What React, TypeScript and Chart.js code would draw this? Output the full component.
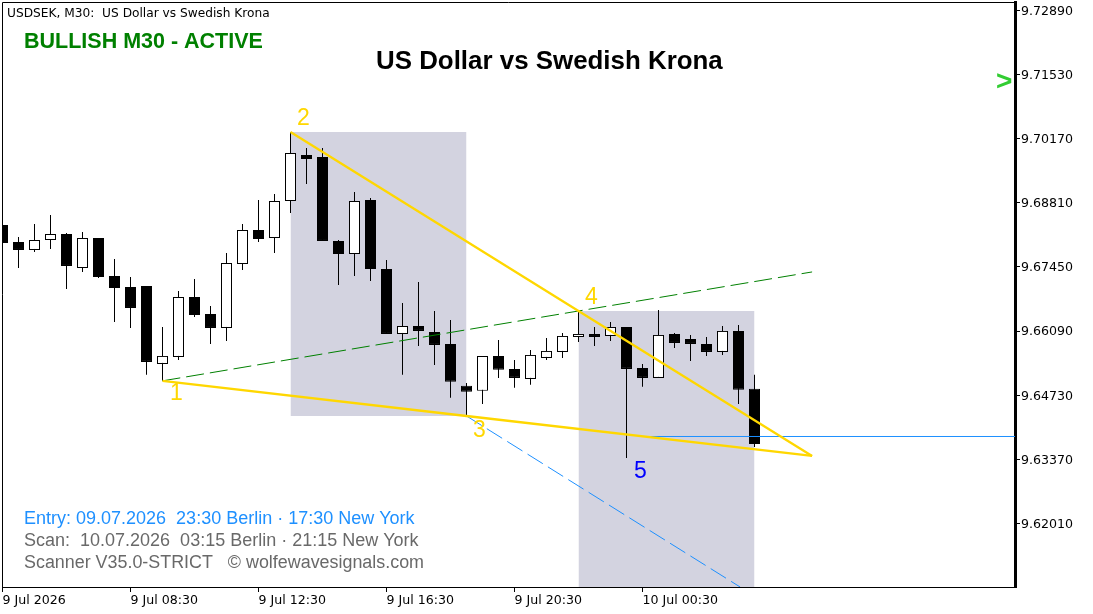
import React, { useEffect, useRef } from "react";
import { Chart, registerables } from "chart.js";

Chart.register(...registerables);

const opens = [9.68341, 9.6798, 9.67811, 9.68023, 9.6815, 9.67429, 9.68065, 9.67259, 9.67026, 9.67047, 9.65395, 9.65543, 9.66814, 9.66453, 9.66157, 9.67514, 9.68235, 9.68065, 9.6885, 9.69826, 9.69783, 9.68002, 9.67726, 9.68871, 9.67408, 9.6603, 9.66199, 9.66072, 9.65818, 9.64929, 9.64823, 9.65564, 9.65289, 9.65077, 9.65522, 9.65649, 9.65966, 9.6603, 9.65988, 9.66178, 9.6531, 9.65098, 9.6603, 9.65924, 9.65818, 9.65649, 9.66094, 9.64866];
const highs = [9.68341, 9.68086, 9.68362, 9.68553, 9.68171, 9.68192, 9.68065, 9.6762, 9.67238, 9.67047, 9.66178, 9.66941, 9.67196, 9.66623, 9.67747, 9.68362, 9.68871, 9.68998, 9.70313, 9.69974, 9.69974, 9.68023, 9.69041, 9.68914, 9.67599, 9.66687, 9.67132, 9.66517, 9.66326, 9.64992, 9.65564, 9.65903, 9.65479, 9.65691, 9.65945, 9.66051, 9.66517, 9.66178, 9.66284, 9.66178, 9.65395, 9.66538, 9.66051, 9.66009, 9.65966, 9.66199, 9.6622, 9.65162];
const lows = [9.67959, 9.67429, 9.67768, 9.67832, 9.66984, 9.67345, 9.67217, 9.66284, 9.66157, 9.65162, 9.65035, 9.65479, 9.6639, 9.65818, 9.65882, 9.67387, 9.6798, 9.67747, 9.68595, 9.69211, 9.68002, 9.67068, 9.67259, 9.67153, 9.6603, 9.65162, 9.65776, 9.65374, 9.64675, 9.6429, 9.64545, 9.65098, 9.64887, 9.6495, 9.65479, 9.65522, 9.65861, 9.65776, 9.65882, 9.63399, 9.64908, 9.65098, 9.65733, 9.65458, 9.65564, 9.65585, 9.64545, 9.63633];
const closes = [9.67959, 9.67811, 9.68023, 9.6815, 9.67472, 9.68065, 9.67238, 9.67005, 9.66581, 9.65437, 9.65564, 9.66814, 9.66432, 9.66157, 9.67535, 9.68235, 9.68044, 9.6885, 9.69868, 9.69741, 9.68002, 9.67726, 9.6885, 9.67408, 9.6603, 9.66199, 9.66094, 9.65797, 9.65014, 9.64802, 9.65564, 9.65268, 9.65098, 9.65585, 9.6567, 9.65988, 9.6603, 9.65966, 9.66178, 9.65289, 9.65098, 9.66009, 9.65839, 9.65818, 9.65649, 9.66094, 9.64844, 9.63696];

const priceTicks = [9.7289, 9.7153, 9.7017, 9.6881, 9.6745, 9.6609, 9.6473, 9.6337, 9.6201];
const timeTickBars = [0, 8, 16, 24, 32, 40];
const timeTickLabels = ["9 Jul 2026", "9 Jul 08:30", "9 Jul 12:30", "9 Jul 16:30", "9 Jul 20:30", "10 Jul 00:30"];

const PRICE_MAX = 9.730703;
const PRICE_MIN = 9.606629;
const BAR_MIN = -0.03125;
const BAR_MAX = 63.28125;

// wave pivots: bar index, price
const waveBars = [10, 18, 29, 36];
const wavePrices = [9.65035, 9.70313, 9.6429, 9.66517];
const apexBar = 50.6;
const apexPrice = 9.63442;
const greenEndPrice = 9.67345;
const entryBar = 40;
const entryPrice = 9.63855;
const targetEndBar = 46.1;
const targetEndPrice = 9.60663;

const GOLD = "#FFD700";
const SHADE = "#D3D3E0";

const lineSet = (data: { x: number; y: number }[], color: string, width: number, dash: number[], order: number) => ({
  type: "line" as const,
  data,
  borderColor: color,
  borderWidth: width,
  borderDash: dash,
  pointRadius: 0,
  tension: 0,
  fill: false,
  order,
});

const shadeSet = (x0: number, x1: number, top: number, bottom: number) => ({
  type: "line" as const,
  data: [{ x: x0, y: top }, { x: x1, y: top }],
  borderWidth: 0,
  borderColor: SHADE,
  backgroundColor: SHADE,
  pointRadius: 0,
  tension: 0,
  fill: { target: { value: bottom } },
  order: 30,
});

const bars = opens.map((o, i) => ({ i, o, h: highs[i], l: lows[i], c: closes[i] }));

const bodySet = (up: boolean) => ({
  type: "bar" as const,
  data: bars.filter((b) => (b.c >= b.o) === up).map((b) => ({ x: b.i, y: [b.o, b.c] })),
  backgroundColor: up ? "#FFFFFF" : "#000000",
  borderColor: "#000000",
  borderWidth: 1,
  borderSkipped: false,
  inflateAmount: 0,
  barThickness: 11,
  grouped: false,
  order: 10,
});

const texts: { t: string; x: number; y: number; f: string; c: string; w?: number }[] = [
  { t: "USDSEK, M30:  US Dollar vs Swedish Krona", x: 7, y: 14, f: "12.2px 'DejaVu Sans'", c: "#000000" },
  { t: "BULLISH M30 - ACTIVE", x: 24, y: 42, f: "bold 21.5px 'Liberation Sans'", c: "#008000" },
  { t: "US Dollar vs Swedish Krona", x: 376, y: 62, f: "bold 25.9px 'Liberation Sans'", c: "#000000" },
  { t: ">", x: 996, y: 82, f: "bold 28px 'Liberation Sans'", c: "#32CD32" },
  { t: "Entry: 09.07.2026  23:30 Berlin · 17:30 New York", x: 24, y: 519, f: "18px 'Liberation Sans'", c: "#1E90FF" },
  { t: "Scan:  10.07.2026  03:15 Berlin · 21:15 New York", x: 24, y: 541, f: "18px 'Liberation Sans'", c: "#696969" },
  { t: "Scanner V35.0-STRICT   © wolfewavesignals.com", x: 24, y: 563, f: "18px 'Liberation Sans'", c: "#696969", w: 400 },
  { t: "1", x: 170, y: 394, f: "23px 'Liberation Sans'", c: GOLD },
  { t: "2", x: 297, y: 119, f: "23px 'Liberation Sans'", c: GOLD },
  { t: "3", x: 473, y: 431, f: "23px 'Liberation Sans'", c: GOLD },
  { t: "4", x: 585, y: 298, f: "23px 'Liberation Sans'", c: GOLD },
  { t: "5", x: 634, y: 472, f: "23px 'Liberation Sans'", c: "#0000FF" },
];

const overlay = {
  id: "overlay",
  afterDraw(chart: Chart) {
    const { ctx, chartArea: a } = chart;
    ctx.save();
    ctx.strokeStyle = "#000000";
    ctx.lineWidth = 1;
    ctx.beginPath();
    ctx.moveTo(a.left + 0.5, a.bottom);
    ctx.lineTo(a.left + 0.5, a.top + 0.5);
    ctx.lineTo(a.right, a.top + 0.5);
    ctx.stroke();
    ctx.textBaseline = "middle";
    ctx.textAlign = "left";
    for (const it of texts) {
      ctx.font = it.f;
      ctx.fillStyle = it.c;
      if (it.w) ctx.fillText(it.t, it.x, it.y, it.w);
      else ctx.fillText(it.t, it.x, it.y);
    }
    ctx.restore();
  },
};

const noPad = (s: any) => {
  s.paddingTop = 0;
  s.paddingBottom = 0;
  s.paddingLeft = 0;
  s.paddingRight = 0;
};

export default function App() {
  const ref = useRef<HTMLCanvasElement | null>(null);
  useEffect(() => {
    if (!ref.current) return;
    const [p1, p2, p3, p4] = waveBars.map((x, i) => ({ x, y: wavePrices[i] }));
    const chart = new Chart(ref.current, {
      type: "line",
      data: {
        datasets: [
          lineSet([p1, p3, { x: apexBar, y: apexPrice }], GOLD, 2.3, [], 1),
          lineSet([p2, p4, { x: apexBar, y: apexPrice }], GOLD, 2.3, [], 1),
          lineSet([p1, p4, { x: apexBar, y: greenEndPrice }], "#008000", 1, [18, 6], 2),
          lineSet([p3, { x: targetEndBar, y: targetEndPrice }], "#1E90FF", 1, [18, 6], 3),
          lineSet([{ x: entryBar, y: entryPrice }, { x: BAR_MAX, y: entryPrice }], "#1E90FF", 1, [], 3),
          bodySet(true),
          bodySet(false),
          {
            type: "bar" as const,
            data: bars.map((b) => ({ x: b.i, y: [b.l, b.h] })),
            backgroundColor: "#000000",
            borderWidth: 0,
            inflateAmount: 0,
            barThickness: 1,
            grouped: false,
            order: 20,
          },
          shadeSet(18, 29, wavePrices[1], wavePrices[2]),
          shadeSet(36, 47, wavePrices[3], PRICE_MIN),
        ] as any,
      },
      options: {
        responsive: false,
        animation: false,
        layout: { autoPadding: false, padding: { left: 2, top: 2, right: 0, bottom: 0 } },
        plugins: { legend: { display: false }, tooltip: { enabled: false }, title: { display: false } },
        scales: {
          x: {
            type: "linear",
            offset: false,
            min: BAR_MIN,
            max: BAR_MAX,
            afterFit: (s: any) => { s.height = 27; noPad(s); },
            afterBuildTicks: (s: any) => { s.ticks = timeTickBars.map((value) => ({ value })); },
            grid: { drawOnChartArea: false, tickLength: 5, tickColor: "#000000", offset: false },
            border: { display: true, color: "#000000", width: 1 },
            ticks: {
              autoSkip: false,
              maxRotation: 0,
              minRotation: 0,
              align: "start",
              padding: 1,
              color: "#000000",
              font: { family: "DejaVu Sans", size: 12.6 },
              callback: (v: any) => timeTickLabels[timeTickBars.indexOf(Number(v))] ?? "",
            },
          },
          y: {
            type: "linear",
            position: "right",
            min: PRICE_MIN,
            max: PRICE_MAX,
            beginAtZero: false,
            afterFit: (s: any) => { s.width = 78; noPad(s); },
            afterBuildTicks: (s: any) => { s.ticks = priceTicks.map((value) => ({ value })); },
            grid: { drawOnChartArea: false, tickLength: 5, tickColor: "#000000" },
            border: { display: true, color: "#000000", width: 3 },
            ticks: {
              autoSkip: false,
              padding: 1,
              labelOffset: 1,
              color: "#000000",
              font: { family: "DejaVu Sans", size: 12.6 },
              callback: (v: any) => Number(v).toFixed(5),
            },
          },
        },
      },
      plugins: [overlay],
    } as any);
    return () => chart.destroy();
  }, []);
  return (
    <div style={{ position: "absolute", left: 0, top: 0, width: 1093, height: 614, background: "#FFFFFF" }}>
      <canvas ref={ref} width={1093} height={614} style={{ display: "block" }} />
    </div>
  );
}
